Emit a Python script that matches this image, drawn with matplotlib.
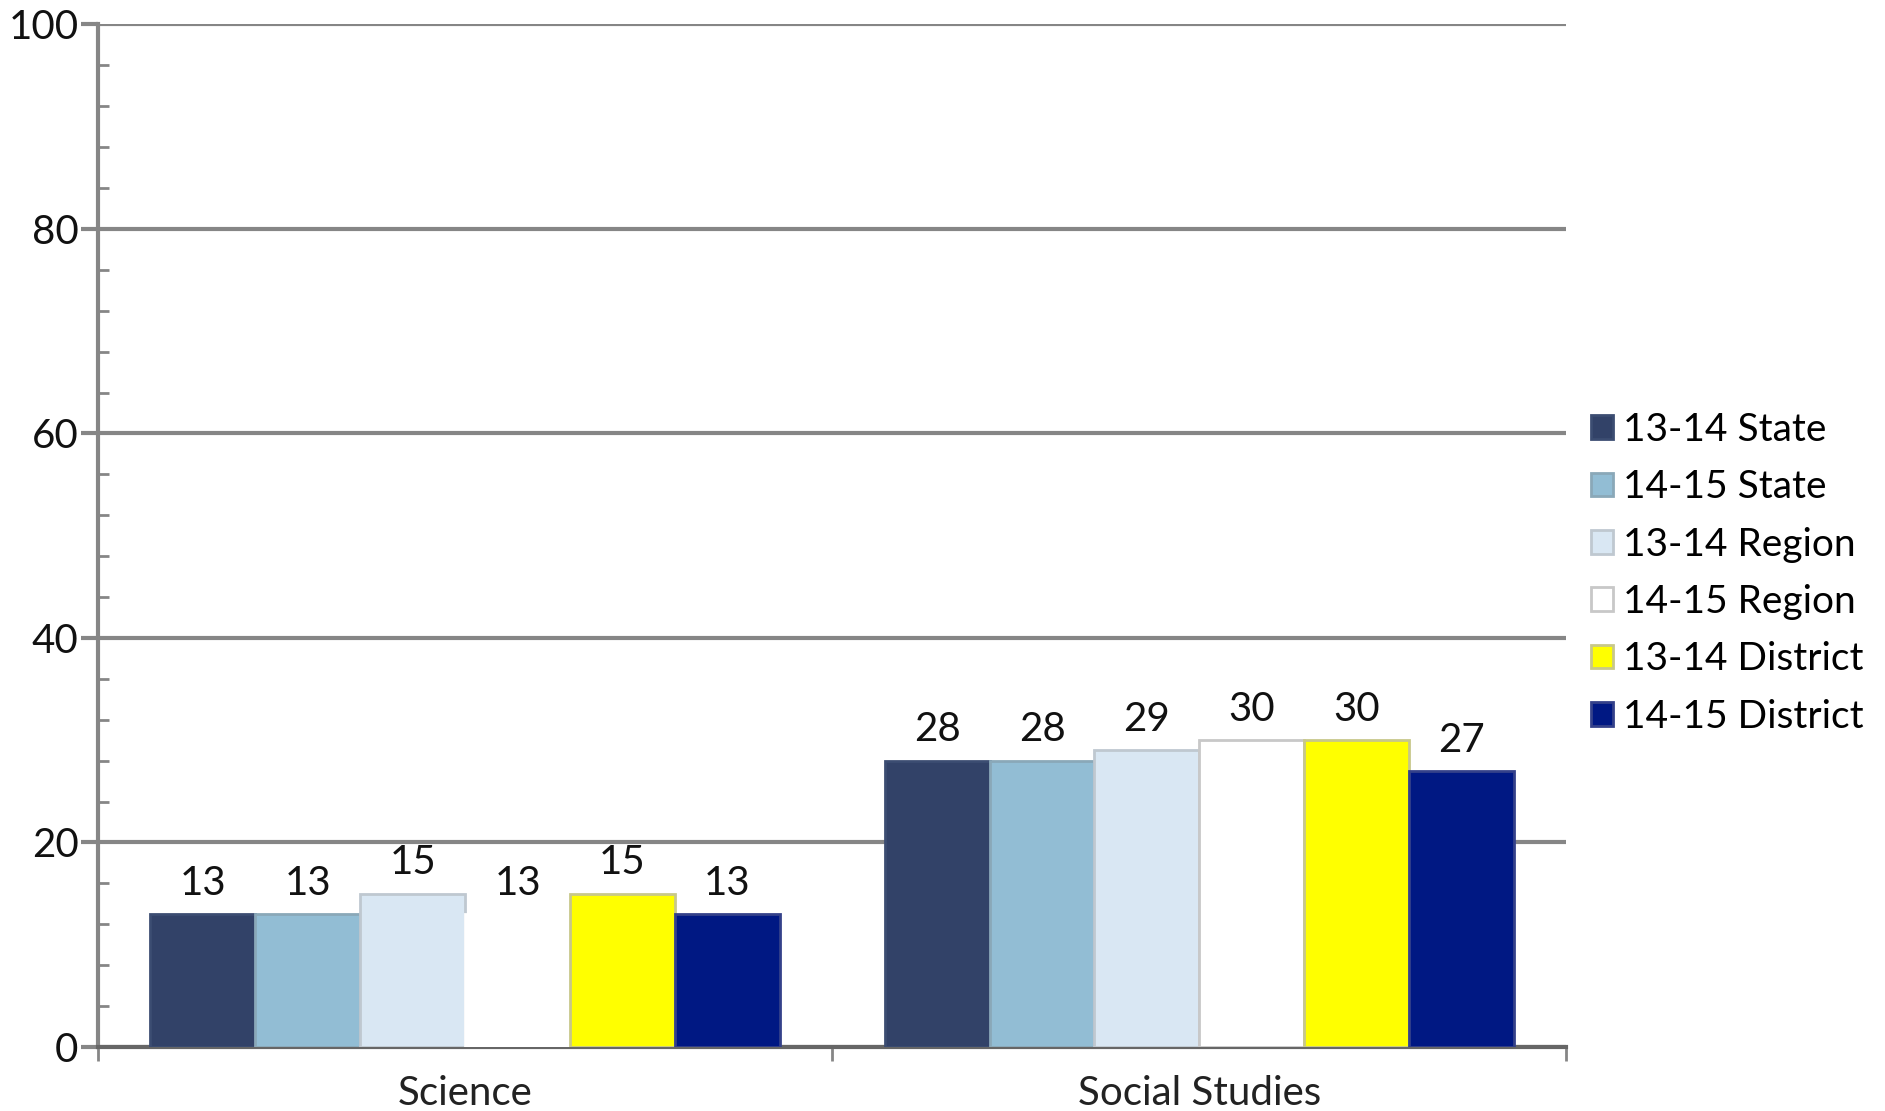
import matplotlib
matplotlib.use("Agg")
import matplotlib.pyplot as plt
import numpy as np
from matplotlib.ticker import MultipleLocator, FixedLocator
from matplotlib.patches import Patch

plt.rcParams['font.family'] = ['Lato', 'DejaVu Sans']

subjects = ["Science", "Social Studies"]
series = ["13-14 State", "14-15 State", "13-14 Region", "14-15 Region", "13-14 District", "14-15 District"]
values = [
    [13, 28],
    [13, 28],
    [15, 29],
    [13, 30],
    [15, 30],
    [13, 27],
]
colors = ["#324268", "#92BDD4", "#D9E7F3", "#FFFFFF", "#FFFF00", "#001883"]
edges = ["#3C4D72", "#8AA8B8", "#BFC8D0", "#C8C8C8", "#C8C88A", "#34418A"]

fig = plt.figure(figsize=(18.85, 11.11), dpi=100)
ax = fig.add_axes([0.052, 0.0576, 0.779, 0.9204])

x = np.arange(len(subjects))
w = 1 / 7
for i, (name, vals) in enumerate(zip(series, values)):
    pos = x + (i - 2.5) * w
    ec = [edges[i]] * len(vals)
    if name == "14-15 Region":
        ec[0] = "#FFFFFF"  # science bar shows no outline
    bars = ax.bar(pos, vals, width=w, color=colors[i], edgecolor=ec, linewidth=2, zorder=3)
    for b, v in zip(bars, vals):
        ax.text(b.get_x() + b.get_width() / 2, v + 1.2, str(v), ha="center", va="bottom",
                fontsize=29, color="#111111", zorder=4)

ax.set_xlim(-0.5, 1.5)
ax.set_ylim(0, 100)
ax.yaxis.set_major_locator(MultipleLocator(20))
ax.yaxis.set_minor_locator(MultipleLocator(4))
ax.grid(axis="y", which="major", color="#868686", linewidth=3, zorder=0)
ax.set_axisbelow(True)

ax.xaxis.set_major_locator(FixedLocator([-0.5, 0.5, 1.5]))
ax.xaxis.set_major_formatter(plt.NullFormatter())
ax.set_xticks(x, subjects, minor=True)
ax.tick_params(axis="x", which="major", length=10, width=2, color="#868686", direction="out")
ax.tick_params(axis="x", which="minor", length=0, pad=20, labelsize=29, labelcolor="#222222")
ax.tick_params(axis="y", which="major", length=12, width=3, color="#868686", direction="out",
               labelsize=29, labelcolor="#111111", pad=2)
ax.tick_params(axis="y", which="minor", length=8, width=2, color="#868686", direction="in")

for s in ["top", "right"]:
    ax.spines[s].set_visible(False)
ax.spines["left"].set_color("#868686")
ax.spines["left"].set_linewidth(3)
ax.spines["bottom"].set_color("#666666")
ax.spines["bottom"].set_linewidth(3)

handles = [Patch(facecolor=c, edgecolor=e, linewidth=2, label=n)
           for c, e, n in zip(colors, edges, series)]
fig.legend(handles=handles, loc="center left", bbox_to_anchor=(0.836, 0.484), frameon=False,
           fontsize=28, handlelength=0.55, handleheight=0.55, handletextpad=0.25,
           labelspacing=0.55, borderaxespad=0)

fig.savefig("out.png", dpi=100)
